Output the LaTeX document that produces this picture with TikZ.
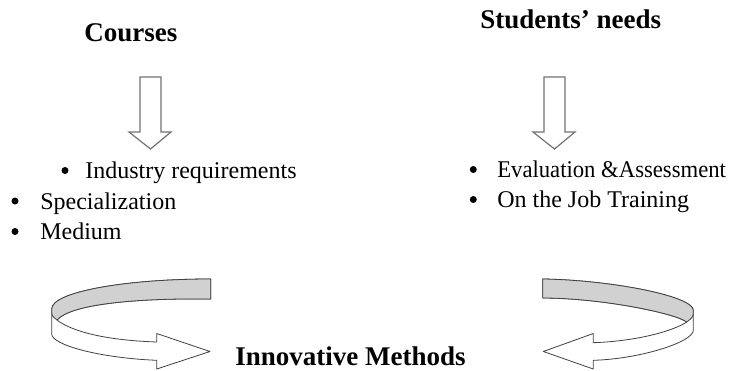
\documentclass[tikz,border=0pt]{standalone}
\usepackage{fontspec}
\setmainfont{Liberation Serif}
\usepackage{tikz}

\begin{document}
\begin{tikzpicture}[x=1pt,y=-1pt,semithick]
  \tikzstyle{title}=[anchor=base west, inner sep=0pt, font=\fontsize{27}{32}\selectfont\bfseries]
  \tikzstyle{item}=[anchor=base west, inner sep=0pt, font=\fontsize{24}{28}\selectfont]
  \tikzstyle{dot}=[circle, fill=black, draw=none, inner sep=0pt, minimum size=7pt]
  \tikzstyle{down}=[draw=black!55, fill=white, line width=1.2pt, line join=miter]
  \tikzstyle{band}=[draw=black!75, fill=white, line width=0.8pt, line join=round]
  \tikzstyle{back}=[draw=black!75, fill=black!18, line width=0.8pt, line join=round]

  \useasboundingbox (0,0) rectangle (744,370);

  % titles
  \node[title] (courses) at (84,41)    {Courses};
  \node[title] (needs)   at (480,28)   {Students' needs};
  \node[title] (methods) at (235,365)  {Innovative Methods};

  % bullet lists
  \node[item] (industry) at (85,178)   {Industry requirements};
  \node[item] (special)  at (40,209)   {Specialization};
  \node[item] (medium)   at (40,239.5) {Medium};
  \node[item] (eval)     at (497,177)  {\scalebox{0.945}[1]{Evaluation \&Assessment}};
  \node[item] (training) at (497,207)  {On the Job Training};

  \node[dot] (b1) at (65,170.5)  {};
  \node[dot] (b2) at (15,201)    {};
  \node[dot] (b3) at (15,231.5)  {};
  \node[dot] (b4) at (473.3,169.5) {};
  \node[dot] (b5) at (473.3,199.5) {};

  % block arrows down
  \draw[down] (140,77) -- (161,77) -- (161,132) -- (171,132) -- (150.5,149)
              -- (129,132) -- (140,132) -- cycle;
  \draw[down] (544,77) -- (565,77) -- (565,132) -- (575,132) -- (554.5,149)
              -- (533,132) -- (544,132) -- cycle;

  % left circular arrow
  \draw[band] (210.7,279) .. controls (125,279) and (51.7,292) .. (51.7,309)
              -- (51.7,334) .. controls (51.7,345) and (100,358) .. (156.7,360.3)
              -- (156.7,369) -- (210,351.5) -- (156.7,333.5) -- (156.7,342)
              .. controls (100,340) and (70,330) .. (57,320)
              .. controls (70,305) and (130,298) .. (210.7,299) -- cycle;
  \draw[back] (210.7,279) .. controls (125,279) and (51.7,292) .. (51.7,309)
              -- (51.7,312) .. controls (52,316) .. (57,320)
              .. controls (70,305) and (130,298) .. (210.7,299) -- cycle;

  % right circular arrow
  \draw[band] (542.7,279) .. controls (610,280) and (693.3,296) .. (693.3,310.3)
              -- (693.3,330.3) .. controls (693.3,342) and (640,359) .. (593.3,360.3)
              -- (593.3,369) -- (543.3,351.5) -- (593.3,333.5) -- (593.3,342.7)
              .. controls (640,341) and (675,330) .. (686.7,322)
              .. controls (675,313) and (600,298) .. (542.7,298) -- cycle;
  \draw[back] (542.7,279) .. controls (610,280) and (693.3,296) .. (693.3,310.3)
              -- (693.3,314) .. controls (692,318) .. (686.7,322)
              .. controls (675,313) and (600,298) .. (542.7,298) -- cycle;
\end{tikzpicture}
\end{document}
